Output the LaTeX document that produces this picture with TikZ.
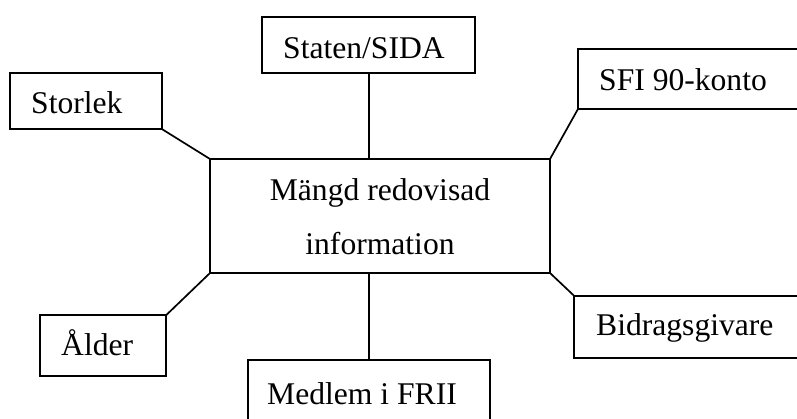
\documentclass[tikz,border=0pt]{standalone}
\usepackage{fontspec}
\setmainfont{Liberation Serif}
\begin{document}
\begin{tikzpicture}[x=1pt,y=-1pt,
  box/.style={draw=black, line width=1.7pt, rectangle, inner sep=0pt, outer sep=0pt, anchor=north west},
  lbl/.style={anchor=base west, inner sep=0pt, font=\fontsize{31.6pt}{38pt}\selectfont},
  link/.style={draw=black, line width=1.7pt}]
\useasboundingbox (0,0) rectangle (797,418);
\clip (0,0) rectangle (797,418);
% central box
\node[box, minimum width=340pt, minimum height=114pt] (c) at (210,159) {};
\node[anchor=base, inner sep=0pt, font=\fontsize{31.6pt}{38pt}\selectfont] (c1) at (380,200) {Mängd redovisad};
\node[anchor=base, inner sep=0pt, font=\fontsize{31.6pt}{38pt}\selectfont] (c2) at (380,254.7) {information};
% outer boxes
\node[box, minimum width=152.6pt, minimum height=56pt] (st) at (9.7,73.3) {};
\node[lbl] (stt) at (31,113) {Storlek};
\node[box, minimum width=212.7pt, minimum height=55.4pt] (sida) at (262,17.3) {};
\node[lbl] (sidat) at (283,58) {Staten/SIDA};
\node[box, minimum width=240pt, minimum height=59.7pt] (sfi) at (578,49.3) {};
\node[lbl] (sfit) at (599,90) {SFI 90-konto};
\node[box, minimum width=126pt, minimum height=60.4pt] (al) at (40,315.3) {};
\node[lbl] (alt) at (61,355) {Ålder};
\node[box, minimum width=240pt, minimum height=62pt] (bg) at (574,295.7) {};
\node[lbl] (bgt) at (596,335) {Bidragsgivare};
\node[box, minimum width=242pt, minimum height=80pt] (fr) at (248.3,359.7) {};
\node[lbl] (frt) at (267,404) {Medlem i FRII};
% connectors
\draw[link] (st.south east) -- (c.north west);
\draw[link] (sida.south -| 368.7,0) -- (c.north -| 368.7,0);
\draw[link] (sfi.south west) -- (c.north east);
\draw[link] (al.north east) -- (c.south west);
\draw[link] (bg.north west) -- (c.south east);
\draw[link] (fr.north -| 368.7,0) -- (c.south -| 368.7,0);
\end{tikzpicture}
\end{document}
